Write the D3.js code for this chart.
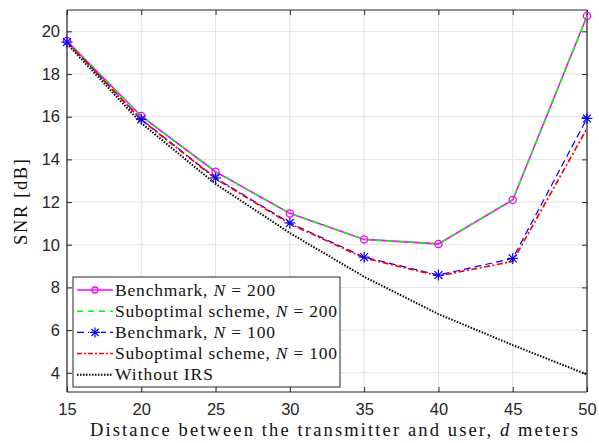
<!DOCTYPE html>
<html><head><meta charset="utf-8">
<script src="https://cdn.jsdelivr.net/npm/d3@7"></script>
<style>body{margin:0;background:#fff}svg{display:block}</style>
</head><body>
<script>
const distances = [15, 20, 25, 30, 35, 40, 45, 50];
const benchmark200 = [19.55, 16.03, 13.42, 11.47, 10.25, 10.04, 12.1, 20.72];
const subopt200   = [19.55, 16.03, 13.42, 11.47, 10.25, 10.04, 12.1, 20.72];
const benchmark100 = [19.5, 15.88, 13.13, 11.02, 9.42, 8.58, 9.36, 15.92];
const subopt100    = [19.5, 15.85, 13.1, 10.98, 9.38, 8.54, 9.22, 15.45];
const withoutIRS   = [19.42, 15.7, 12.85, 10.55, 8.5, 6.75, 5.3, 3.92];
const xTicks = [15, 20, 25, 30, 35, 40, 45, 50];
const yTicks = [4, 6, 8, 10, 12, 14, 16, 18, 20];
const seriesNames = ["Benchmark, ", "Suboptimal scheme, ", "Benchmark, ", "Suboptimal scheme, ", "Without IRS"];
const seriesN = ["200", "200", "100", "100", null];

const W = 599, H = 443;
const L = 67, R = 587, T = 10, B = 392;
const serif = "'Liberation Serif', 'Times New Roman', serif";
const svg = d3.select("body").append("svg").attr("width", W).attr("height", H);
const x = d3.scaleLinear().domain([15, 50]).range([L, R]);
const y = d3.scaleLinear().domain([3.1, 21]).range([B, T]);

// grid
const g = svg.append("g");
g.selectAll(".gx").data(xTicks).enter().append("line")
  .attr("x1", d => x(d)).attr("x2", d => x(d)).attr("y1", T).attr("y2", B)
  .attr("stroke", "#e3e3e3").attr("stroke-width", 1);
g.selectAll(".gy").data(yTicks).enter().append("line")
  .attr("y1", d => y(d)).attr("y2", d => y(d)).attr("x1", L).attr("x2", R)
  .attr("stroke", "#e3e3e3").attr("stroke-width", 1);

// axes
const axCol = "#262626";
const xb = svg.append("g").attr("transform", `translate(0,${B})`)
  .call(d3.axisBottom(x).tickValues(xTicks).tickSize(-5).tickPadding(11).tickFormat(d3.format("d")));
const xt = svg.append("g").attr("transform", `translate(0,${T})`)
  .call(d3.axisTop(x).tickValues(xTicks).tickSize(-5).tickFormat(""));
const yl = svg.append("g").attr("transform", `translate(${L},0)`)
  .call(d3.axisLeft(y).tickValues(yTicks).tickSize(-5).tickPadding(7).tickFormat(d3.format("d")));
const yr = svg.append("g").attr("transform", `translate(${R},0)`)
  .call(d3.axisRight(y).tickValues(yTicks).tickSize(-5).tickFormat(""));
[xb, xt, yl, yr].forEach(a => {
  a.select(".domain").attr("stroke", axCol).attr("stroke-width", 1.2);
  a.selectAll(".tick line").attr("stroke", axCol).attr("stroke-width", 1);
  a.selectAll("text").attr("fill", "#262626").style("font-family", "'Liberation Sans', Arial, sans-serif").style("font-size", "16.5px");
});
xb.selectAll(".domain").attr("d", `M${L},0H${R}`);
yl.selectAll(".domain").attr("d", `M0,${B}V${T}`);
xt.selectAll(".domain").attr("d", `M${L},0H${R}`);
yr.selectAll(".domain").attr("d", `M0,${B}V${T}`);

// lines
const pts = arr => distances.map((d, i) => [x(d), y(arr[i])]);
const line = d3.line();
function drawLine(arr, color, dash, w) {
  svg.append("path").attr("d", line(pts(arr))).attr("fill", "none")
    .attr("stroke", color).attr("stroke-width", w).attr("stroke-dasharray", dash);
}
drawLine(withoutIRS, "#000", "1.5,1.5", 2);
drawLine(benchmark200, "#ff00ff", null, 1.6);
drawLine(subopt200, "#00ff00", "6,5", 1.6);
drawLine(benchmark100, "#0000ff", "7,4", 1.2);
drawLine(subopt100, "#ff0000", "6,2.5,2,2.5", 1.7);

function star(g, cx, cy, color, r) {
  const p = g.append("g").attr("transform", `translate(${cx},${cy})`).attr("stroke", color).attr("stroke-width", 1.2);
  p.append("line").attr("x1", -r).attr("x2", r).attr("y1", 0).attr("y2", 0);
  p.append("line").attr("x1", 0).attr("x2", 0).attr("y1", -r).attr("y2", r);
  const k = r * 0.72;
  p.append("line").attr("x1", -k).attr("x2", k).attr("y1", -k).attr("y2", k);
  p.append("line").attr("x1", -k).attr("x2", k).attr("y1", k).attr("y2", -k);
}
const mk = svg.append("g");
mk.selectAll("circle").data(pts(benchmark200)).enter().append("circle")
  .attr("cx", d => d[0]).attr("cy", d => d[1]).attr("r", 3.6)
  .attr("fill", "none").attr("stroke", "#ff00ff").attr("stroke-width", 1.3);
pts(benchmark100).forEach(p => star(mk, p[0], p[1], "#0000ff", 5.5));

// legend
const lg = svg.append("g");
const lx = 73, ly = 277, lw = 267, lh = 110;
lg.append("rect").attr("x", lx).attr("y", ly).attr("width", lw).attr("height", lh)
  .attr("fill", "#fff").attr("stroke", "#262626").attr("stroke-width", 1);
const styles = [
  {c: "#ff00ff", dash: null, w: 1.5, m: "o", tl: 160},
  {c: "#00ff00", dash: "6,5", w: 1.5, tl: 222},
  {c: "#0000ff", dash: "7,4", w: 1.2, m: "*", tl: 160},
  {c: "#ff0000", dash: "5,2,2,2", w: 1.5, tl: 222},
  {c: "#000", dash: "1.5,1.5", w: 2, tl: 98}
];
seriesNames.forEach((name, i) => {
  const yy = ly + 13 + i * 21.2;
  const s = styles[i];
  lg.append("line").attr("x1", lx + 4).attr("x2", lx + 40).attr("y1", yy).attr("y2", yy)
    .attr("stroke", s.c).attr("stroke-width", s.w).attr("stroke-dasharray", s.dash);
  if (s.m === "o") lg.append("circle").attr("cx", lx + 22).attr("cy", yy).attr("r", 3)
    .attr("fill", "none").attr("stroke", s.c).attr("stroke-width", 1.3);
  if (s.m === "*") { lg.append("rect").attr("x", lx+16).attr("y", yy-1).attr("width", 12).attr("height", 2).attr("fill", "#fff"); star(lg, lx + 22, yy, s.c, 5); }
  const t = lg.append("text").attr("x", lx + 42).attr("y", yy + 5.5)
    .attr("textLength", s.tl).attr("lengthAdjust", "spacing")
    .style("font-family", serif).style("font-size", "17.5px").attr("fill", "#111");
  t.append("tspan").text(name);
  if (seriesN[i]) {
    t.append("tspan").style("font-style", "italic").text("N");
    t.append("tspan").text(" = " + seriesN[i]);
  }
});

// axis labels
const xl = svg.append("text").attr("x", 90).attr("y", 436)
  .attr("textLength", 488).attr("lengthAdjust", "spacing")
  .style("font-family", serif).style("font-size", "18.5px").attr("fill", "#111");
xl.append("tspan").text("Distance between the transmitter and user, ");
xl.append("tspan").style("font-style", "italic").text("d");
xl.append("tspan").text(" meters");
svg.append("text").attr("transform", `translate(27,245) rotate(-90)`)
  .attr("textLength", 86).attr("lengthAdjust", "spacing")
  .style("font-family", serif).style("font-size", "18.5px").attr("fill", "#111")
  .text("SNR [dB]");
</script>
</body></html>
